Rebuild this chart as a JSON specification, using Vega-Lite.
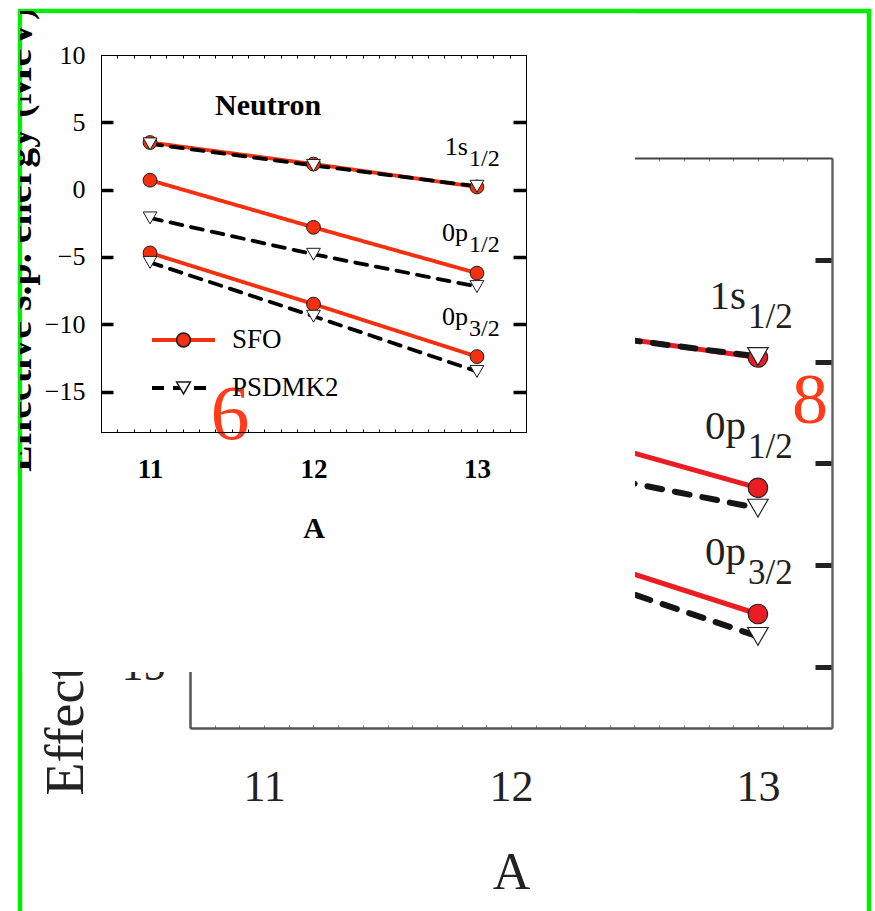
{
  "$schema": "https://vega.github.io/schema/vega-lite/v6.json",
  "width": 849,
  "height": 900,
  "autosize": "none",
  "padding": {"left": 20, "top": 11, "right": 6, "bottom": 0},
  "background": "white",
  "view": {"stroke": "#00ee00", "strokeWidth": 4.5, "strokeDash": [1749, 849, 900]},
  "config": {"font": "Liberation Serif", "axis": {"grid": false}},
  "datasets": {
    "levels": [
      {"model": "SFO", "orbital": "1s1/2", "orb": "1s", "sub": "1/2", "A": 11, "E": 3.5},
      {"model": "SFO", "orbital": "1s1/2", "orb": "1s", "sub": "1/2", "A": 12, "E": 1.9},
      {"model": "SFO", "orbital": "1s1/2", "orb": "1s", "sub": "1/2", "A": 13, "E": 0.2},
      {"model": "SFO", "orbital": "0p1/2", "orb": "0p", "sub": "1/2", "A": 11, "E": 0.7},
      {"model": "SFO", "orbital": "0p1/2", "orb": "0p", "sub": "1/2", "A": 12, "E": -2.8},
      {"model": "SFO", "orbital": "0p1/2", "orb": "0p", "sub": "1/2", "A": 13, "E": -6.2},
      {"model": "SFO", "orbital": "0p3/2", "orb": "0p", "sub": "3/2", "A": 11, "E": -4.7},
      {"model": "SFO", "orbital": "0p3/2", "orb": "0p", "sub": "3/2", "A": 12, "E": -8.5},
      {"model": "SFO", "orbital": "0p3/2", "orb": "0p", "sub": "3/2", "A": 13, "E": -12.4},
      {"model": "PSDMK2", "orbital": "1s1/2", "orb": "1s", "sub": "1/2", "A": 11, "E": 3.4},
      {"model": "PSDMK2", "orbital": "1s1/2", "orb": "1s", "sub": "1/2", "A": 12, "E": 1.8},
      {"model": "PSDMK2", "orbital": "1s1/2", "orb": "1s", "sub": "1/2", "A": 13, "E": 0.25},
      {"model": "PSDMK2", "orbital": "0p1/2", "orb": "0p", "sub": "1/2", "A": 11, "E": -2.1},
      {"model": "PSDMK2", "orbital": "0p1/2", "orb": "0p", "sub": "1/2", "A": 12, "E": -4.8},
      {"model": "PSDMK2", "orbital": "0p1/2", "orb": "0p", "sub": "1/2", "A": 13, "E": -7.2},
      {"model": "PSDMK2", "orbital": "0p3/2", "orb": "0p", "sub": "3/2", "A": 11, "E": -5.4},
      {"model": "PSDMK2", "orbital": "0p3/2", "orb": "0p", "sub": "3/2", "A": 12, "E": -9.4},
      {"model": "PSDMK2", "orbital": "0p3/2", "orb": "0p", "sub": "3/2", "A": 13, "E": -13.5}
    ]
  },
  "layer": [
    {
      "layer": [
        {
          "data": {"name": "levels"},
          "transform": [{"filter": "datum.model == 'SFO'"}],
          "mark": {"type": "line", "stroke": "#ec1c24", "strokeWidth": 5},
          "encoding": {
            "x": {"field": "A", "type": "quantitative",
              "scale": {"domain": [10.7, 13.3], "range": [170, 812], "nice": false, "zero": false},
              "axis": {"orient": "bottom", "offset": -183, "zindex": 0,
                "values": [10.7, 10.8, 10.9, 11, 11.1, 11.2, 11.3, 11.4, 11.5, 11.6, 11.7, 11.8, 11.9, 12, 12.1, 12.2, 12.3, 12.4, 12.5, 12.6, 12.7, 12.8, 12.9, 13, 13.1, 13.2, 13.3],
                "tickSize": -3, "tickWidth": 1, "tickColor": "#777",
                "domainColor": "#555", "domainWidth": 2.5,
                "labelExpr": "datum.value % 1 == 0 ? format(datum.value, 'd') : ''",
                "labelFont": "Liberation Serif", "labelFontSize": 44, "labelColor": "#222",
                "labelPadding": 62, "labelBaseline": "middle", "labelOverlap": false, "labelFlush": false,
                "title": "A", "titleFont": "Liberation Serif", "titleFontSize": 52, "titleFontWeight": "normal",
                "titleColor": "#222", "titleY": 144, "titleBaseline": "middle"}},
            "y": {"field": "E", "type": "quantitative",
              "scale": {"domain": [-18, 10], "range": [717, 147], "nice": false, "zero": false},
              "axis": {"orient": "left", "offset": -170, "zindex": 0,
                "values": [-15],
                "tickSize": -17, "tickWidth": 5, "tickColor": "#222",
                "domainColor": "#555", "domainWidth": 2.5,
                "labelExpr": "datum.value < 0 ? '-' + abs(datum.value) : '' + datum.value",
                "labelFont": "Liberation Serif", "labelFontSize": 44, "labelColor": "#222", "labelPadding": 42,
                "title": "Effective s.p. energy (MeV)", "titleFont": "Liberation Serif", "titleFontSize": 54,
                "titleFontWeight": "normal", "titleColor": "#222", "titleAngle": 270, "titleAlign": "left",
                "titleBaseline": "alphabetic", "titleX": -108, "titleY": 784}},
            "detail": {"field": "orbital"}
          }
        },
        {
          "data": {"name": "levels"},
          "transform": [{"filter": "datum.model == 'PSDMK2'"}],
          "mark": {"type": "line", "stroke": "#151515", "strokeWidth": 6, "strokeDash": [15, 13], "strokeCap": "round"},
          "encoding": {
            "x": {"field": "A", "type": "quantitative",
              "scale": {"domain": [10.7, 13.3], "range": [170, 812], "nice": false, "zero": false},
              "axis": {"orient": "top", "offset": -147, "zindex": 0,
                "values": [10.7, 10.8, 10.9, 11, 11.1, 11.2, 11.3, 11.4, 11.5, 11.6, 11.7, 11.8, 11.9, 12, 12.1, 12.2, 12.3, 12.4, 12.5, 12.6, 12.7, 12.8, 12.9, 13, 13.1, 13.2, 13.3],
                "tickSize": -3, "tickWidth": 1, "tickColor": "#777",
                "domainColor": "#444", "domainWidth": 2, "labels": false, "title": null}},
            "y": {"field": "E", "type": "quantitative",
              "scale": {"domain": [-18, 10], "range": [717, 147], "nice": false, "zero": false},
              "axis": {"orient": "right", "offset": -37, "zindex": 0,
                "values": [-15, -10, -5, 0, 5],
                "tickSize": -17, "tickWidth": 5, "tickColor": "#222",
                "domainColor": "#666", "domainWidth": 2.5, "labels": false, "title": null}},
            "detail": {"field": "orbital"}
          }
        },
        {
          "data": {"name": "levels"},
          "transform": [{"filter": "datum.model == 'SFO'"}],
          "mark": {"type": "point", "shape": "circle", "filled": true, "fill": "#ec1c24", "stroke": "#222", "strokeWidth": 1.2, "size": 380, "opacity": 1},
          "encoding": {
            "x": {"field": "A", "type": "quantitative", "scale": {"domain": [10.7, 13.3], "range": [170, 812], "nice": false, "zero": false}, "axis": null},
            "y": {"field": "E", "type": "quantitative", "scale": {"domain": [-18, 10], "range": [717, 147], "nice": false, "zero": false}, "axis": null}
          }
        },
        {
          "data": {"name": "levels"},
          "transform": [{"filter": "datum.model == 'PSDMK2'"}],
          "mark": {"type": "point", "shape": "triangle-down", "filled": true, "fill": "#ffffff", "stroke": "#222", "strokeWidth": 1.2, "size": 420, "opacity": 1},
          "encoding": {
            "x": {"field": "A", "type": "quantitative", "scale": {"domain": [10.7, 13.3], "range": [170, 812], "nice": false, "zero": false}, "axis": null},
            "y": {"field": "E", "type": "quantitative", "scale": {"domain": [-18, 10], "range": [717, 147], "nice": false, "zero": false}, "axis": null}
          }
        },
        {
          "data": {"name": "levels"},
          "transform": [{"filter": "datum.model == 'SFO' && datum.A == 13"}],
          "mark": {"type": "text", "align": "right", "baseline": "alphabetic", "dx": -12, "dy": -49, "font": "Liberation Serif", "fontSize": 41, "fill": "#231f20"},
          "encoding": {
            "x": {"field": "A", "type": "quantitative", "scale": {"domain": [10.7, 13.3], "range": [170, 812], "nice": false, "zero": false}, "axis": null},
            "y": {"field": "E", "type": "quantitative", "scale": {"domain": [-18, 10], "range": [717, 147], "nice": false, "zero": false}, "axis": null},
            "text": {"field": "orb"}
          }
        },
        {
          "data": {"name": "levels"},
          "transform": [{"filter": "datum.model == 'SFO' && datum.A == 13"}],
          "mark": {"type": "text", "align": "left", "baseline": "alphabetic", "dx": -10, "dy": -30, "font": "Liberation Serif", "fontSize": 35, "fill": "#231f20"},
          "encoding": {
            "x": {"field": "A", "type": "quantitative", "scale": {"domain": [10.7, 13.3], "range": [170, 812], "nice": false, "zero": false}, "axis": null},
            "y": {"field": "E", "type": "quantitative", "scale": {"domain": [-18, 10], "range": [717, 147], "nice": false, "zero": false}, "axis": null},
            "text": {"field": "sub"}
          }
        },
        {
          "data": {"values": [{}]},
          "mark": {"type": "text", "text": "8", "align": "center", "baseline": "middle", "font": "Liberation Serif", "fontSize": 72, "fill": "#ff3b1a"},
          "encoding": {
            "x": {"datum": 13.211, "type": "quantitative", "scale": {"domain": [10.7, 13.3], "range": [170, 812], "nice": false, "zero": false}, "axis": null},
            "y": {"datum": -1.94, "type": "quantitative", "scale": {"domain": [-18, 10], "range": [717, 147], "nice": false, "zero": false}, "axis": null}
          }
        }
      ],
      "resolve": {"axis": {"x": "independent", "y": "independent"}}
    },
    {
      "layer": [
        {
          "data": {"values": [{}]},
          "mark": {"type": "rect", "fill": "#ffffff"},
          "encoding": {
            "x": {"datum": 10.2198, "type": "quantitative", "scale": {"domain": [10.7, 13.3], "range": [81, 506], "nice": false, "zero": false}, "axis": null},
            "x2": {"datum": 13.967},
            "y": {"datum": 13.082, "type": "quantitative", "scale": {"domain": [-18, 10], "range": [421, 44], "nice": false, "zero": false}, "axis": null},
            "y2": {"datum": -35.83}
          }
        },
        {
          "data": {"values": [{}]},
          "mark": {"type": "text", "text": "Effective s.p. energy (MeV)", "angle": 270, "align": "left", "baseline": "alphabetic", "font": "Liberation Serif", "fontSize": 40, "fontWeight": "bold", "fill": "#000", "clip": true},
          "encoding": {
            "x": {"datum": 10.2718, "type": "quantitative", "scale": {"domain": [10.7, 13.3], "range": [81, 506], "nice": false, "zero": false}, "axis": null},
            "y": {"datum": -20.97, "type": "quantitative", "scale": {"domain": [-18, 10], "range": [421, 44], "nice": false, "zero": false}, "axis": null}
          }
        },
        {
          "data": {"values": [{}]},
          "mark": {"type": "text", "text": "Neutron", "align": "center", "baseline": "alphabetic", "font": "Liberation Serif", "fontSize": 30, "fontWeight": "bold", "fill": "#000"},
          "encoding": {
            "x": {"datum": 11.722, "type": "quantitative", "scale": {"domain": [10.7, 13.3], "range": [81, 506], "nice": false, "zero": false}, "axis": null},
            "y": {"datum": 5.54, "type": "quantitative", "scale": {"domain": [-18, 10], "range": [421, 44], "nice": false, "zero": false}, "axis": null}
          }
        },
        {
          "data": {"name": "levels"},
          "mark": {"type": "line", "strokeWidth": 3.8, "strokeCap": "round"},
          "encoding": {
            "x": {"field": "A", "type": "quantitative",
              "scale": {"domain": [10.7, 13.3], "range": [81, 506], "nice": false, "zero": false},
              "axis": {"orient": "bottom", "offset": -479, "zindex": 1,
                "values": [10.7, 10.8, 10.9, 11, 11.1, 11.2, 11.3, 11.4, 11.5, 11.6, 11.7, 11.8, 11.9, 12, 12.1, 12.2, 12.3, 12.4, 12.5, 12.6, 12.7, 12.8, 12.9, 13, 13.1, 13.2, 13.3],
                "tickSize": -3, "tickWidth": 1, "tickColor": "#000",
                "domainColor": "#000", "domainWidth": 1,
                "labelExpr": "datum.value % 1 == 0 ? format(datum.value, 'd') : ''",
                "labelFont": "Liberation Serif", "labelFontWeight": "bold", "labelFontSize": 27, "labelColor": "#000",
                "labelPadding": 40, "labelBaseline": "middle", "labelOverlap": false, "labelFlush": false,
                "title": "A", "titleFont": "Liberation Serif", "titleFontWeight": "bold", "titleFontSize": 30,
                "titleColor": "#000", "titleY": 96, "titleBaseline": "middle"}},
            "y": {"field": "E", "type": "quantitative",
              "scale": {"domain": [-18, 10], "range": [421, 44], "nice": false, "zero": false},
              "axis": {"orient": "left", "offset": -81, "zindex": 1,
                "values": [-15, -10, -5, 0, 5, 10],
                "tickSize": -12, "tickWidth": 3.5, "tickColor": "#000",
                "tickOpacity": {"condition": {"test": "datum.value == 10", "value": 0}, "value": 1},
                "domainColor": "#000", "domainWidth": 1,
                "labelFont": "Liberation Serif", "labelFontSize": 26, "labelColor": "#000", "labelPadding": 28,
                "title": null}},
            "detail": {"field": "orbital"},
            "stroke": {"field": "model", "type": "nominal",
              "scale": {"domain": ["SFO", "PSDMK2"], "range": ["#f5300f", "#000000"]},
              "legend": {"orient": "none", "legendX": 130, "legendY": 318, "title": null, "padding": 0,
                "symbolType": "stroke", "symbolSize": 3969, "symbolStrokeWidth": 3.8, "clipHeight": 22, "rowPadding": 21,
                "labelFont": "Liberation Serif", "labelFontSize": 27, "labelColor": "#000", "labelOffset": 15}},
            "strokeDash": {"field": "model", "type": "nominal",
              "scale": {"domain": ["SFO", "PSDMK2"], "range": [[1, 0], [12, 9]]},
              "legend": {"orient": "none", "legendX": 130, "legendY": 318, "title": null, "padding": 0,
                "symbolType": "stroke", "symbolSize": 3969, "symbolStrokeWidth": 3.8, "clipHeight": 22, "rowPadding": 21,
                "labelFont": "Liberation Serif", "labelFontSize": 27, "labelColor": "#000", "labelOffset": 15}}
          }
        },
        {
          "data": {"name": "levels"},
          "mark": {"type": "point", "filled": true, "stroke": "#1a1a1a", "strokeWidth": 1, "size": 190, "opacity": 1},
          "encoding": {
            "x": {"field": "A", "type": "quantitative",
              "scale": {"domain": [10.7, 13.3], "range": [81, 506], "nice": false, "zero": false},
              "axis": {"orient": "top", "offset": -44, "zindex": 1,
                "values": [10.7, 10.8, 10.9, 11, 11.1, 11.2, 11.3, 11.4, 11.5, 11.6, 11.7, 11.8, 11.9, 12, 12.1, 12.2, 12.3, 12.4, 12.5, 12.6, 12.7, 12.8, 12.9, 13, 13.1, 13.2, 13.3],
                "tickSize": -3, "tickWidth": 1, "tickColor": "#000",
                "domainColor": "#000", "domainWidth": 1, "labels": false, "title": null}},
            "y": {"field": "E", "type": "quantitative",
              "scale": {"domain": [-18, 10], "range": [421, 44], "nice": false, "zero": false},
              "axis": {"orient": "right", "offset": -343, "zindex": 1,
                "values": [-15, -10, -5, 0, 5],
                "tickSize": -13, "tickWidth": 3.5, "tickColor": "#000",
                "domainColor": "#000", "domainWidth": 1, "labels": false, "title": null}},
            "fill": {"field": "model", "type": "nominal", "sort": "descending",
              "scale": {"range": ["#f5300f", "#ffffff"]},
              "legend": {"orient": "none", "legendX": 130, "legendY": 318, "title": null, "padding": 0,
                "symbolSize": 190, "symbolOffset": 20,
                "clipHeight": 22, "rowPadding": 21, "labelExpr": "''", "labelFont": "Liberation Serif", "labelFontSize": 27,
                "encode": {"symbols": {"stroke": {"value": "#1a1a1a"}, "strokeWidth": {"value": 1}, "opacity": {"value": 1}}}}},
            "shape": {"field": "model", "type": "nominal", "sort": "descending",
              "scale": {"range": ["circle", "triangle-down"]},
              "legend": {"orient": "none", "legendX": 130, "legendY": 318, "title": null, "padding": 0,
                "symbolSize": 190, "symbolOffset": 20,
                "clipHeight": 22, "rowPadding": 21, "labelExpr": "''", "labelFont": "Liberation Serif", "labelFontSize": 27,
                "encode": {"symbols": {"stroke": {"value": "#1a1a1a"}, "strokeWidth": {"value": 1}, "opacity": {"value": 1}}}}}
          }
        },
        {
          "data": {"name": "levels"},
          "transform": [{"filter": "datum.model == 'SFO' && datum.A == 13"}],
          "mark": {"type": "text", "align": "right", "baseline": "alphabetic", "dx": -9, "dy": -32, "font": "Liberation Serif", "fontSize": 26, "fill": "#000"},
          "encoding": {
            "x": {"field": "A", "type": "quantitative", "scale": {"domain": [10.7, 13.3], "range": [81, 506], "nice": false, "zero": false}, "axis": null},
            "y": {"field": "E", "type": "quantitative", "scale": {"domain": [-18, 10], "range": [421, 44], "nice": false, "zero": false}, "axis": null},
            "text": {"field": "orb"}
          }
        },
        {
          "data": {"name": "levels"},
          "transform": [{"filter": "datum.model == 'SFO' && datum.A == 13"}],
          "mark": {"type": "text", "align": "left", "baseline": "alphabetic", "dx": -8, "dy": -21, "font": "Liberation Serif", "fontSize": 24, "fill": "#000"},
          "encoding": {
            "x": {"field": "A", "type": "quantitative", "scale": {"domain": [10.7, 13.3], "range": [81, 506], "nice": false, "zero": false}, "axis": null},
            "y": {"field": "E", "type": "quantitative", "scale": {"domain": [-18, 10], "range": [421, 44], "nice": false, "zero": false}, "axis": null},
            "text": {"field": "sub"}
          }
        },
        {
          "data": {"values": [{}]},
          "mark": {"type": "text", "text": "6", "align": "center", "baseline": "middle", "font": "Liberation Serif", "fontSize": 78, "fill": "#ff3b1a"},
          "encoding": {
            "x": {"datum": 11.489, "type": "quantitative", "scale": {"domain": [10.7, 13.3], "range": [81, 506], "nice": false, "zero": false}, "axis": null},
            "y": {"datum": -16.81, "type": "quantitative", "scale": {"domain": [-18, 10], "range": [421, 44], "nice": false, "zero": false}, "axis": null}
          }
        }
      ],
      "resolve": {"axis": {"x": "independent", "y": "independent"}}
    }
  ],
  "resolve": {"scale": {"x": "independent", "y": "independent"}}
}
